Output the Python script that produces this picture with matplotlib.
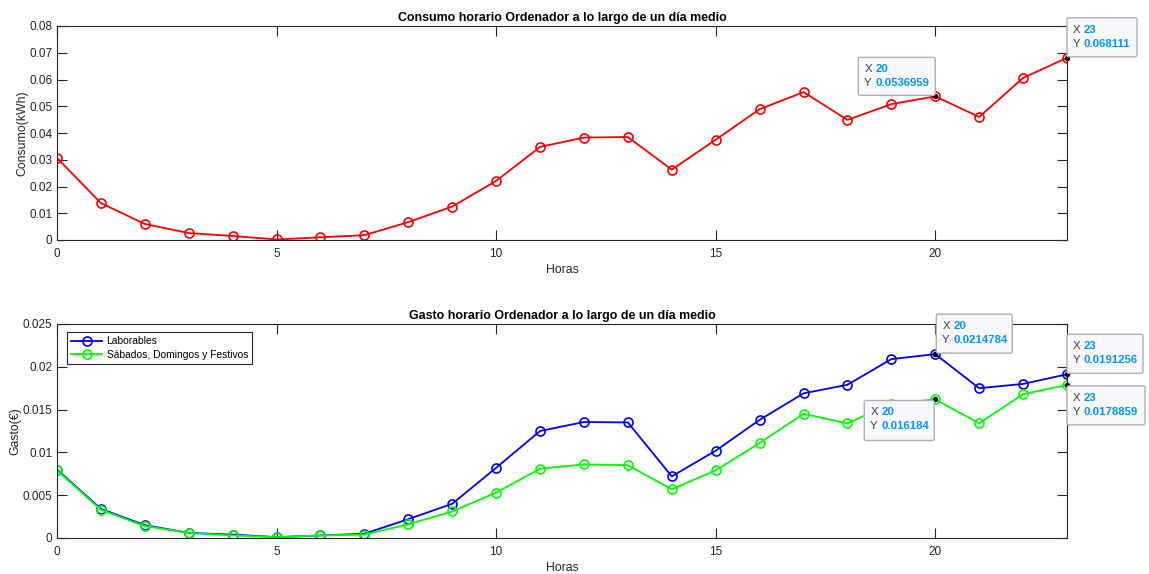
import matplotlib
matplotlib.use("Agg")
import matplotlib.pyplot as plt
import matplotlib.transforms as mtransforms
from matplotlib.patches import FancyBboxPatch
from matplotlib.ticker import FuncFormatter

plt.rcParams['font.family'] = ['Liberation Sans', 'DejaVu Sans']

horas = list(range(24))
consumo = [0.0307, 0.0138, 0.0060, 0.0026, 0.0015, 0.0002, 0.0010, 0.0018,
           0.0067, 0.0125, 0.0221, 0.0348, 0.0383, 0.0385, 0.0263, 0.0375,
           0.0489, 0.0553, 0.0449, 0.0508, 0.0536959, 0.0460, 0.0606, 0.068111]
gasto_laborables = [0.0080, 0.0034, 0.0015, 0.0006, 0.0004, 0.0001, 0.0003, 0.0005,
                    0.0022, 0.0040, 0.0082, 0.0125, 0.01355, 0.0135, 0.0072, 0.0102,
                    0.0138, 0.0169, 0.0179, 0.0209, 0.0214784, 0.0175, 0.0180, 0.0191256]
gasto_festivos = [0.0079, 0.0033, 0.0014, 0.0006, 0.0003, 0.0001, 0.0003, 0.0004,
                  0.0016, 0.0031, 0.0053, 0.0081, 0.0086, 0.0085, 0.0057, 0.0079,
                  0.0111, 0.0145, 0.0134, 0.0157, 0.016184, 0.0134, 0.0168, 0.0178859]

top_title = "Consumo horario Ordenador a lo largo de un día medio"
bot_title = "Gasto horario Ordenador a lo largo de un día medio"
legend_labels = ["Laborables", "Sábados, Domingos y Festivos"]
xticks = [0, 5, 10, 15, 20]
top_yticks = [0, 0.01, 0.02, 0.03, 0.04, 0.05, 0.06, 0.07, 0.08]
bot_yticks = [0, 0.005, 0.01, 0.015, 0.02, 0.025]

# datatips: (axis index, x, y, x text, y text, box in pixel offsets (x0, x1, y0, y1))
tips = [
    (0, 20, consumo[20], "20", "0.0536959", (-77, 0, 1, 39)),
    (0, 23, consumo[23], "23", "0.068111", (0, 70, 1, 40)),
    (1, 20, gasto_laborables[20], "20", "0.0214784", (1, 77, 1, 40)),
    (1, 23, gasto_laborables[23], "23", "0.0191256", (0, 76, 1, 40)),
    (1, 23, gasto_festivos[23], "23", "0.0178859", (0, 78, -40, -1)),
    (1, 20, gasto_festivos[20], "20", "0.016184", (-71, -1, -41, -1)),
]

W, H = 1149, 574
fig = plt.figure(figsize=(W / 100, H / 100), dpi=100)
axc = '#262626'

def mkax(bottom_px):
    ax = fig.add_axes([57 / W, 1 - bottom_px / H, 1010 / W, 214 / H])
    for s in ax.spines.values():
        s.set_color(axc)
        s.set_linewidth(0.8)
    ax.tick_params(direction='in', top=True, right=True, length=7, width=0.8,
                   colors=axc, labelsize=8.5)
    ax.tick_params(axis='x', pad=5.5)
    ax.tick_params(axis='y', pad=3.5)
    ax.set_xlim(0, 23)
    ax.set_xticks(xticks)
    ax.set_xlabel("Horas", fontsize=8.8, color=axc, labelpad=3)
    ax.yaxis.set_major_formatter(FuncFormatter(lambda v, p: '%g' % round(v, 6)))
    return ax

ax1 = mkax(240)
ax1.plot(horas, consumo, color='#ff0000', lw=1.3, marker='o', ms=6.5,
         mfc='none', mew=1.2)
ax1.set_ylim(0, 0.08)
ax1.set_yticks(top_yticks)
ax1.set_ylabel("Consumo(kWh)", fontsize=8.8, color=axc, labelpad=0.8)
ax1.set_title(top_title, fontsize=8.9, fontweight='bold', color='black', pad=3.5)

ax2 = mkax(538)
ax2.plot(horas, gasto_laborables, color='#0000ff', lw=1.3, marker='o', ms=6.5,
         mfc='none', mew=1.2, label=legend_labels[0])
ax2.plot(horas, gasto_festivos, color='#00ff00', lw=1.3, marker='o', ms=6.5,
         mfc='none', mew=1.2, label=legend_labels[1])
ax2.set_ylim(0, 0.025)
ax2.set_yticks(bot_yticks)
ax2.set_ylabel("Gasto(€)", fontsize=8.8, color=axc, labelpad=0.8)
ax2.set_title(bot_title, fontsize=8.9, fontweight='bold', color='black', pad=3.5)
leg = ax2.legend(loc='upper left', bbox_to_anchor=(10 / 1010, 1 - 8 / 214),
                 borderaxespad=0, fancybox=False, framealpha=1, edgecolor=axc,
                 fontsize=7.4, handlelength=3.0, handletextpad=0.45,
                 borderpad=0.4, labelspacing=0.35)
leg.get_frame().set_linewidth(0.8)

axes = [ax1, ax2]
for ai, x, y, xs, ys, (x0, x1, y0, y1) in tips:
    ax = axes[ai]
    tr = mtransforms.ScaledTranslation(x, y, ax.transData)
    box = FancyBboxPatch((x0, y0), x1 - x0, y1 - y0,
                         boxstyle="round,pad=0,rounding_size=2",
                         facecolor='#f8f8fc', edgecolor='#b0b0b0', lw=1.0,
                         transform=tr, clip_on=False, zorder=5)
    fig.add_artist(box)
    top = y1
    for k, (lab, val) in enumerate([("X", xs), ("Y", ys)]):
        ty = top - 12 - 14 * k
        fig.text(x0 + 6, ty, lab, transform=tr, fontsize=8.2, color='#404040',
                 va='center', ha='left', zorder=6)
        fig.text(x0 + 17, ty, val, transform=tr, fontsize=8.2, color='#0096ff',
                 fontweight='bold', va='center', ha='left', zorder=6)
    ax.plot([x], [y], 'o', color='black', ms=3, zorder=7, clip_on=False)

fig.savefig("out.png", dpi=100)
